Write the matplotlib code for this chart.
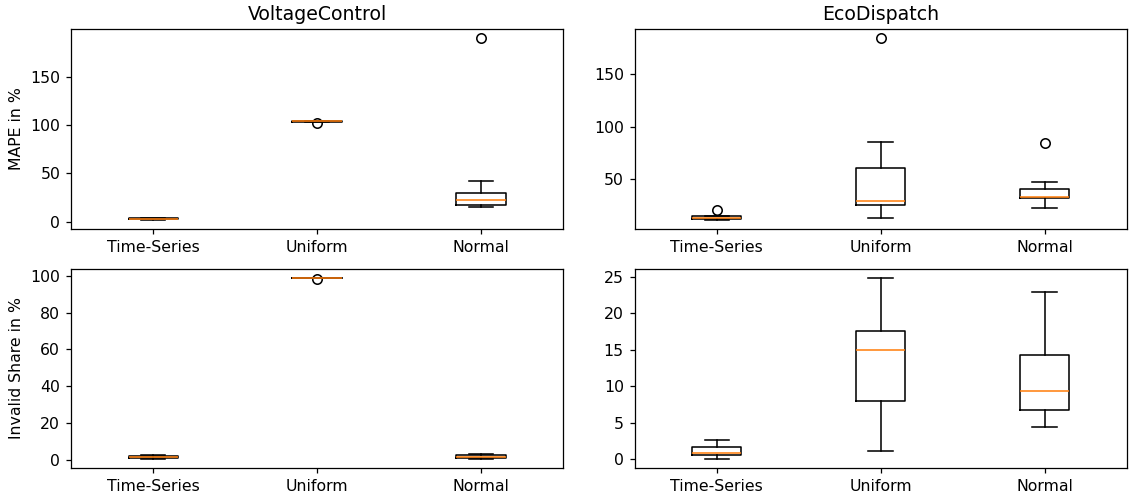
import matplotlib
matplotlib.use("Agg")
import matplotlib.pyplot as plt

# Verteilungen als Boxplot-Kennzahlen (whislo, q1, med, q3, whishi, Ausreißer)
methods = ["Time-Series", "Uniform", "Normal"]
envs = ["VoltageControl", "EcoDispatch"]

# MAPE in %
mape_vc = [
    (2.0, 2.5, 3.1, 3.8, 4.2, []),
    (103.6, 103.6, 103.8, 104.0, 104.0, [101.8]),
    (14.8, 17.3, 22.0, 29.3, 42.4, [190.0]),
]
mape_ed = [
    (11.3, 12.1, 13.0, 14.4, 15.3, [20.8]),
    (13.4, 25.8, 29.3, 61.0, 85.8, [184.3]),
    (22.4, 31.9, 32.5, 40.8, 47.4, [84.6]),
]

# Anteil ungültiger Lösungen in %
invalid_vc = [
    (0.2, 0.6, 1.2, 1.9, 2.6, []),
    (98.9, 98.9, 99.0, 99.1, 99.1, [98.7]),
    (0.3, 0.9, 1.6, 2.4, 3.2, []),
]
invalid_ed = [
    (0.0, 0.64, 0.87, 1.65, 2.66, []),
    (1.1, 7.98, 14.95, 17.6, 24.9, []),
    (4.36, 6.7, 9.35, 14.35, 22.97, []),
]

# y-Ticks je Panel
yticks = [[[0, 50, 100, 150], [50, 100, 150]],
          [[0, 20, 40, 60, 80, 100], [0, 5, 10, 15, 20, 25]]]


def to_stats(rows):
    stats = []
    for (lo, q1, med, q3, hi, fl), name in zip(rows, methods):
        stats.append(dict(whislo=lo, q1=q1, med=med, q3=q3, whishi=hi,
                          fliers=fl, label=name))
    return stats


dpi = 113
fig, axes = plt.subplots(2, 2, figsize=(1129 / dpi, 495 / dpi), dpi=dpi)
data = [[mape_vc, mape_ed], [invalid_vc, invalid_ed]]

for i in range(2):
    for j in range(2):
        ax = axes[i, j]
        ax.bxp(to_stats(data[i][j]))
        ax.set_yticks(yticks[i][j])
        if i == 0:
            ax.set_title(envs[j])

axes[0, 0].set_ylabel("MAPE in %")
axes[1, 0].set_ylabel("Invalid Share in %")

fig.subplots_adjust(left=0.063, right=0.998, top=0.941, bottom=0.054,
                    wspace=0.146, hspace=0.2)
plt.savefig("out.png", dpi=dpi)
